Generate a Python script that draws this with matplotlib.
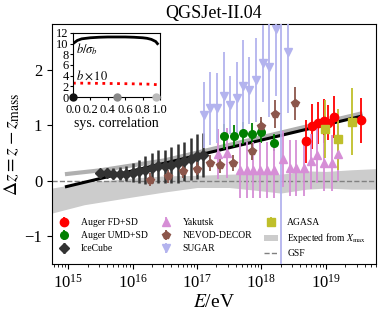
import matplotlib
matplotlib.use("Agg")
import matplotlib.pyplot as plt
import numpy as np

plt.rcParams["font.family"] = ["Liberation Serif", "DejaVu Serif"]
plt.rcParams["mathtext.fontset"] = "stix"

# log10(E/eV) and delta z values
auger_fd_lgE = [18.70, 18.79, 18.88, 18.97, 19.04, 19.13, 19.54]
auger_fd_dz = [0.71, 0.98, 1.05, 1.08, 1.05, 1.15, 1.09]
auger_fd_err = [0.38, 0.40, 0.38, 0.40, 0.32, 0.38, 0.40]

auger_umd_lgE = [17.42, 17.57, 17.71, 17.86, 18.00, 18.19]
auger_umd_dz = [0.80, 0.81, 0.86, 0.85, 0.88, 0.69]
auger_umd_err = [0.22, 0.20, 0.20, 0.20, 0.20, 0.15]

icecube_lgE = [15.5, 15.6, 15.7, 15.8, 15.9, 16.0, 16.1, 16.2, 16.3,
               16.4, 16.5, 16.6, 16.7, 16.8, 16.9, 17.0, 17.1]
icecube_dz = [0.15, 0.15, 0.13, 0.13, 0.13, 0.15, 0.17, 0.19, 0.23,
              0.26, 0.26, 0.29, 0.32, 0.35, 0.39, 0.44, 0.47]
icecube_err = [0.07, 0.08, 0.10, 0.12, 0.14, 0.17, 0.20, 0.25, 0.27,
               0.30, 0.30, 0.32, 0.35, 0.35, 0.38, 0.40, 0.40]

yakutsk_lgE = [17.33, 17.46, 17.67, 17.77, 17.87, 17.98, 18.08, 18.19, 18.33,
               18.44, 18.54, 18.66, 18.77, 18.86, 18.98, 19.09, 19.19]
yakutsk_dz = [0.49, 0.51, 0.20, 0.20, 0.20, 0.20, 0.20, 0.20, 0.39,
              0.23, 0.23, 0.23, 0.35, 0.47, 0.32, 0.32, 0.49]
yakutsk_err = [0.45, 0.45, 0.50, 0.50, 0.50, 0.50, 0.50, 0.50, 0.50,
               0.50, 0.50, 0.50, 0.50, 0.50, 0.50, 0.50, 0.50]

nevod_lgE = [16.27, 16.55, 16.78, 17.00, 17.20, 17.36, 17.56, 17.86, 18.00, 18.21, 18.52]
nevod_dz = [0.02, 0.08, 0.17, 0.22, 0.32, 0.28, 0.32, 0.53, 0.98, 1.21, 1.40]
nevod_err = [0.12, 0.12, 0.12, 0.12, 0.14, 0.14, 0.14, 0.15, 0.17, 0.25, 0.30]

sugar_lgE = [17.11, 17.21, 17.31, 17.42, 17.51, 17.62, 17.72, 17.81,
             17.91, 18.02, 18.12, 18.22, 18.31, 18.42]
sugar_dz = [1.19, 1.31, 1.31, 1.53, 1.37, 1.49, 1.71, 1.63,
            1.82, 2.12, 2.06, 2.73, 3.10, 2.33]
sugar_err = [0.60, 0.66, 0.63, 0.80, 0.52, 0.66, 0.83, 0.61,
             0.75, 0.69, 0.90, 1.20, 4.80, 1.10]

agasa_lgE = [18.99, 19.19, 19.40]
agasa_dz = [0.93, 0.75, 1.07]
agasa_err = [0.52, 0.55, 0.61]

xmax_lgE = [14.75, 15.25, 16.0, 16.5, 17.0, 17.5, 18.0, 18.3, 18.7, 19.0, 19.4, 19.78]
xmax_hi = [-0.13, -0.03, 0.05, 0.09, 0.10, 0.12, 0.14, 0.12, 0.18, 0.17, 0.20, 0.22]
xmax_lo = [-0.58, -0.43, -0.29, -0.20, -0.12, -0.12, -0.18, -0.22, -0.15, -0.13, -0.15, -0.15]

gsf_lgE = [14.75, 15.5, 16.5, 17.5, 18.5, 19.78]
gsf_dz = [0.0, 0.0, 0.0, 0.0, 0.0, 0.0]

fit_lgE = [14.95, 19.57]
fit_dz = [-0.11, 1.17]
fit2_lgE = [14.95, 15.5, 16.5, 19.57]
fit2_dz = [0.12, 0.19, 0.37, 1.22]

# inset: systematic correlation scan
corr = [0.0, 0.05, 0.1, 0.2, 0.3, 0.4, 0.5, 0.6, 0.7, 0.8, 0.85, 0.9, 0.95, 0.97]
b_over_sig = [10.0, 10.6, 10.9, 11.1, 11.2, 11.25, 11.25, 11.25, 11.2, 11.1, 11.0, 10.8, 10.4, 10.0]
b_times10 = [2.6, 2.6, 2.6, 2.58, 2.56, 2.54, 2.52, 2.5, 2.47, 2.44, 2.42, 2.38, 2.33, 2.3]
corr_pts = [0.0, 0.5, 0.95]
corr_cols = ["#111111", "#888888", "#bbbbbb"]


def E(lg):
    return 10 ** np.asarray(lg)


fig = plt.figure(figsize=(3.82, 3.14), dpi=100)
ax = fig.add_axes([0.136, 0.159, 0.848, 0.765])

ax.fill_between(E(xmax_lgE), xmax_lo, xmax_hi, color="#cccccc", lw=0,
                label=r"Expected from $X_\mathrm{max}$", zorder=1)
ax.plot(E(gsf_lgE), gsf_dz, ls="--", color="#808080", lw=1.0, label="GSF", zorder=2)
ax.plot(E(fit2_lgE), fit2_dz, color="#b0b0b0", lw=3, zorder=2, solid_capstyle="butt")
ax.plot(E(fit_lgE), fit_dz, color="black", lw=2.2, zorder=3, solid_capstyle="butt")

kw = dict(ls="none", elinewidth=1.3, capsize=0, zorder=4)
ax.errorbar(E(auger_fd_lgE), auger_fd_dz, yerr=auger_fd_err, fmt="o", color="red",
            ms=6, label="Auger FD+SD", **kw)
ax.errorbar(E(auger_umd_lgE), auger_umd_dz, yerr=auger_umd_err, fmt="o", color="green",
            ms=5.5, label="Auger UMD+SD", **kw)
ax.errorbar(E(icecube_lgE), icecube_dz, yerr=icecube_err, fmt="D", color="#333333",
            ms=5, label="IceCube", ls="none", elinewidth=1.8, capsize=0, zorder=4)
ax.errorbar(E(yakutsk_lgE), yakutsk_dz, yerr=yakutsk_err, fmt="^", color="#d68ed6",
            ms=5.5, label="Yakutsk", **kw)
ax.errorbar(E(nevod_lgE), nevod_dz, yerr=nevod_err, fmt="p", color="#8c564b",
            ms=6, label="NEVOD-DECOR", **kw)
ax.errorbar(E(sugar_lgE), sugar_dz, yerr=sugar_err, fmt="v", color="#b3b3ee",
            ms=6, label="SUGAR", **kw)
ax.errorbar(E(agasa_lgE), agasa_dz, yerr=agasa_err, fmt="s", color="#bfbf2a",
            ms=5.5, label="AGASA", **kw)

ax.set_xscale("log")
ax.set_xlim(5.6e14, 6e19)
ax.set_ylim(-1.5, 2.83)
ax.set_yticks([-1, 0, 1, 2])
ax.tick_params(labelsize=12)
ax.set_xlabel(r"$E$/eV", fontsize=14, labelpad=2)
ax.set_ylabel(r"$\Delta z = z - z_\mathrm{mass}$", fontsize=14, labelpad=2)
ax.set_title("QGSJet-II.04", fontsize=13, pad=4)

h, l = ax.get_legend_handles_labels()
order = ["Auger FD+SD", "Auger UMD+SD", "IceCube", "Yakutsk", "NEVOD-DECOR", "SUGAR",
         "AGASA", r"Expected from $X_\mathrm{max}$", "GSF"]
hd = dict(zip(l, h))
ax.legend([hd[k] for k in order], order, loc="lower left", bbox_to_anchor=(0.0, 0.0),
          ncol=3, frameon=False, fontsize=6.9, handlelength=1.4, columnspacing=1.25,
          labelspacing=0.42, handletextpad=1.0, borderaxespad=0.2)

ins = fig.add_axes([0.191, 0.691, 0.228, 0.204])
ins.plot(corr, b_over_sig, color="black", lw=2)
ins.plot(corr, b_times10, color="red", lw=2, ls=":")
for c, col in zip(corr_pts, corr_cols):
    ins.plot(c, 0, "o", color=col, ms=5, clip_on=False, zorder=5)
ins.text(0.03, 8.3, r"$b/\sigma_b$", fontsize=9)
ins.text(0.03, 3.3, r"$b\times10$", fontsize=9)
ins.set_xlim(0, 1)
ins.set_ylim(0, 12)
ins.set_xticks([0.0, 0.2, 0.4, 0.6, 0.8, 1.0])
ins.set_yticks([0, 2, 4, 6, 8, 10, 12])
ins.tick_params(labelsize=9, length=2, pad=1)
ins.tick_params(axis="x", pad=3)
ins.set_xlabel("sys. correlation", fontsize=10, labelpad=1)

fig.savefig("out.png", dpi=100)
